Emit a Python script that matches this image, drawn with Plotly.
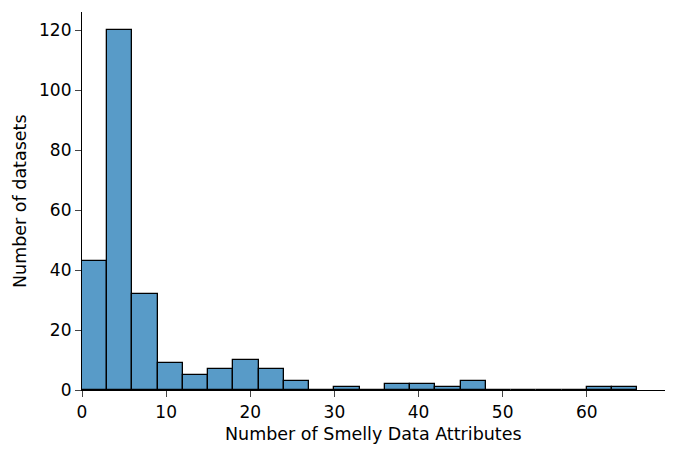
import plotly.graph_objects as go

bin_starts = [0, 3, 6, 9, 12, 15, 18, 21, 24, 27, 30, 33, 36, 39, 42, 45, 48, 51, 54, 57, 60, 63]
counts = [43, 120, 32, 9, 5, 7, 10, 7, 3, 0, 1, 0, 2, 2, 1, 3, 0, 0, 0, 0, 1, 1]
bin_width = 3
x_ticks = [0, 10, 20, 30, 40, 50, 60]
y_ticks = [0, 20, 40, 60, 80, 100, 120]
x_label = "Number of Smelly Data Attributes"
y_label = "Number of datasets"

fig = go.Figure(go.Bar(
    x=bin_starts, y=counts, width=[bin_width] * len(bin_starts), offset=0,
    marker=dict(color="rgb(88,155,200)", line=dict(color="black", width=1.3)),
))
font = dict(family="DejaVu Sans", size=17, color="black")
title_font = dict(family="DejaVu Sans", size=17.5, color="black")
# the page body adds an 8px margin, so the figure is 8px smaller and margins shifted
fig.update_layout(
    width=669, height=447, margin=dict(l=74, r=4, t=4, b=57),
    plot_bgcolor="white", paper_bgcolor="white", font=font, showlegend=False,
    bargap=0,
)
fig.update_layout(margin=dict(l=74, r=12, t=4, b=65))
axis_common = dict(showgrid=False, zeroline=False, showline=True, linecolor="black",
                   linewidth=1.2, ticks="outside", ticklen=6, tickwidth=1.2,
                   tickfont=font, automargin=False)
fig.update_xaxes(range=[0, 69.3], tickvals=x_ticks, **axis_common)
fig.update_yaxes(range=[0, 126], tickvals=y_ticks, **axis_common)
fig.add_annotation(text=x_label, xref="paper", yref="paper", x=0.5, y=0,
                   yanchor="middle", yshift=-44, showarrow=False, font=title_font)
fig.add_annotation(text=y_label, xref="paper", yref="paper", x=0, y=0.5,
                   xanchor="center", xshift=-62, textangle=-90, showarrow=False, font=title_font)
fig.write_html("out.html")
